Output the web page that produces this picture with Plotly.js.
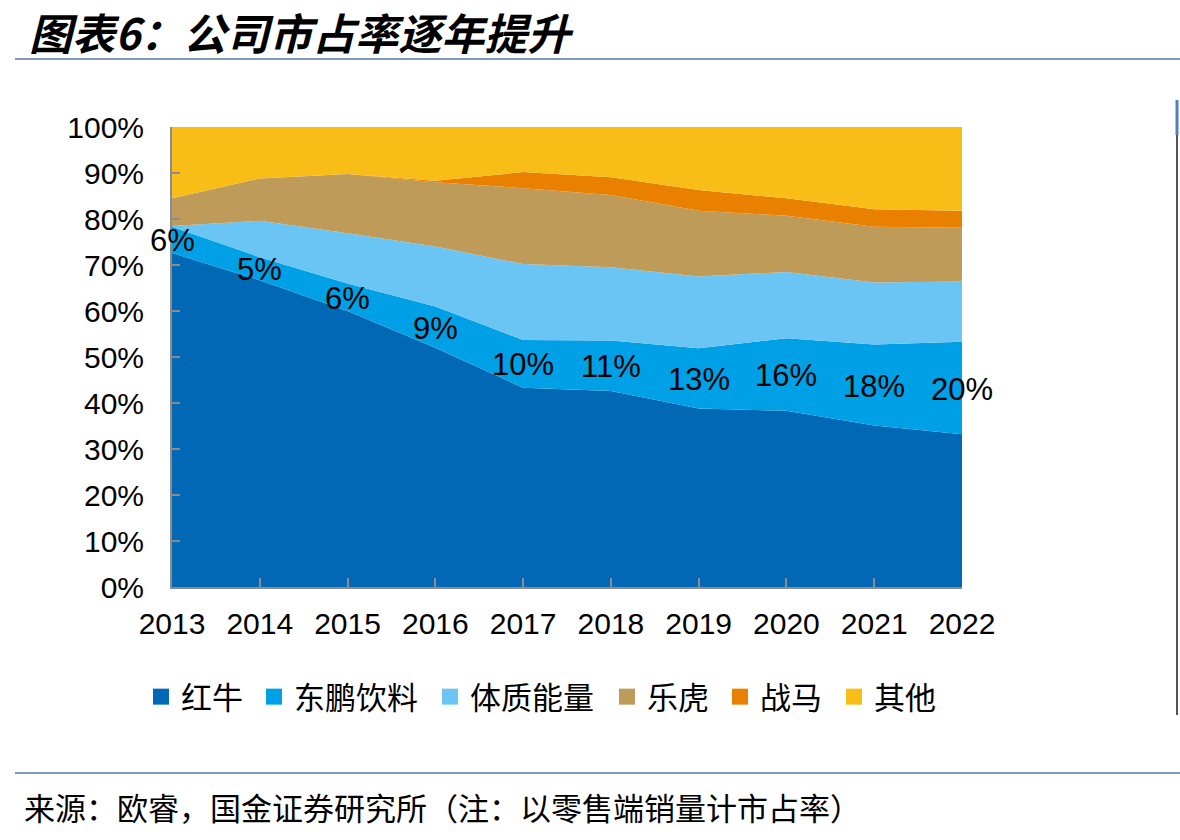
<!DOCTYPE html>
<html>
<head>
<meta charset="utf-8">
<script src="https://cdn.plot.ly/plotly-3.0.1.min.js"></script>
<style>
  html, body { margin: 0; padding: 0; background: #fff; }
  #chart { width: 1180px; height: 840px; }
</style>
</head>
<body>
<div id="chart"></div>
<script>
// ---- Data (market share, %) ----
const years = [2013, 2014, 2015, 2016, 2017, 2018, 2019, 2020, 2021, 2022];
const hongniu  = [72.6, 66.7, 60.0, 52.0, 43.3, 42.6, 38.8, 38.3, 35.1, 33.2]; // 红牛
const dongpeng = [5.7, 5.0, 6.0, 9.0, 10.4, 11.0, 13.1, 15.8, 17.6, 20.1];     // 东鹏饮料
const tizhi    = [0.2, 7.9, 10.9, 13.0, 16.5, 15.9, 15.6, 14.4, 13.5, 13.1];   // 体质能量
const lehu     = [6.0, 9.2, 12.9, 14.0, 16.5, 15.7, 14.3, 12.2, 12.1, 11.7];   // 乐虎
const zhanma   = [0, 0, 0, 0.3, 3.5, 3.9, 4.5, 3.8, 3.8, 3.7];                  // 战马
const qita     = [15.5, 11.2, 10.2, 11.7, 9.8, 10.9, 13.7, 15.5, 17.9, 18.2];  // 其他
const dongpengLabels = ['6%', '5%', '6%', '9%', '10%', '11%', '13%', '16%', '18%', '20%'];

const seriesNames = ['红牛', '东鹏饮料', '体质能量', '乐虎', '战马', '其他'];
const seriesData = [hongniu, dongpeng, tizhi, lehu, zhanma, qita];
const colors = ['#0068B5', '#00A0E6', '#6AC5F4', '#BF9B5A', '#E98000', '#F8BE17'];

// ---- Layout geometry helpers ----
const W = 1180, H = 840;
const L = 172, R = 962, T = 127, B = 587;
const px = x => (x - L) / (R - L);
const py = y => (B - y) / (B - T);

const latin = 'Liberation Sans, Arial, Noto Sans CJK SC, sans-serif';
const cjk = 'Noto Sans CJK SC, sans-serif';

// left edge (px) of each legend swatch in the reference layout
const legendSwatchLeft = [156, 269, 445, 622, 735, 849];

const traces = [];
seriesNames.forEach((name, i) => {
  traces.push({
    type: 'scatter', x: years, y: seriesData[i], name: name,
    stackgroup: 'one', mode: 'none',
    fillcolor: colors[i], line: {width: 0},
    showlegend: false, hoverinfo: 'x+y+name'
  });
});
// legend proxies (square swatches), one legend each
seriesNames.forEach((name, i) => {
  traces.push({
    type: 'scatter', x: [null], y: [null], name: name, mode: 'markers',
    marker: {symbol: 'square', size: 18, color: colors[i]},
    showlegend: true, hoverinfo: 'skip',
    legend: i === 0 ? 'legend' : 'legend' + (i + 1)
  });
});

const axisColor = '#8C8C8C';
const layout = {
  width: W, height: H,
  margin: {l: L, r: W - R, t: T, b: H - B, pad: 0},
  paper_bgcolor: '#fff', plot_bgcolor: '#fff',
  font: {family: latin, color: '#000'},
  xaxis: {
    range: [2013, 2022], tickvals: years, ticktext: years.map(String),
    showgrid: false, zeroline: false,
    showline: true, linecolor: axisColor, linewidth: 2,
    ticks: 'inside', ticklen: 9, tickwidth: 2, tickcolor: axisColor,
    tickfont: {family: latin, size: 30, color: '#000'},
    ticklabelstandoff: 9, fixedrange: true
  },
  yaxis: {
    range: [0, 100], dtick: 10, ticksuffix: '%',
    showgrid: false, zeroline: false,
    showline: true, linecolor: axisColor, linewidth: 2,
    ticks: 'inside', ticklen: 8, tickwidth: 2, tickcolor: axisColor,
    tickfont: {family: latin, size: 30, color: '#000'},
    ticklabelstandoff: 20, fixedrange: true
  },
  showlegend: true,
  annotations: [
    {
      text: '图表6：公司市占率逐年提升', xref: 'paper', yref: 'paper',
      x: px(27), y: py(31), xanchor: 'left', yanchor: 'middle', showarrow: false,
      font: {family: cjk, size: 43, weight: 'bold', style: 'italic', color: '#000'}
    },
    {
      text: '来源：欧睿，国金证券研究所（注：以零售端销量计市占率）', xref: 'paper', yref: 'paper',
      x: px(22), y: py(806), xanchor: 'left', yanchor: 'middle', showarrow: false,
      font: {family: cjk, size: 31, color: '#000'}
    }
  ],
  shapes: [
    {type: 'line', xref: 'paper', yref: 'paper', x0: px(15), x1: px(1180), y0: py(59), y1: py(59),
     line: {color: '#7F9AB5', width: 2}},
    {type: 'line', xref: 'paper', yref: 'paper', x0: px(15), x1: px(1180), y0: py(773), y1: py(773),
     line: {color: '#7F9AB5', width: 2}},
    {type: 'line', xref: 'paper', yref: 'paper', x0: px(1177), x1: px(1177), y0: py(100), y1: py(135),
     line: {color: '#4F81BD', width: 3}},
    {type: 'line', xref: 'paper', yref: 'paper', x0: px(1177), x1: px(1177), y0: py(135), y1: py(715),
     line: {color: '#555', width: 2}}
  ]
};

// one legend per series, placed at its reference position
seriesNames.forEach((name, i) => {
  const key = i === 0 ? 'legend' : 'legend' + (i + 1);
  layout[key] = {
    orientation: 'h', xref: 'container', yref: 'container',
    x: (legendSwatchLeft[i] - 15) / W, xanchor: 'left',
    y: 1 - 697 / H, yanchor: 'middle',
    font: {family: cjk, size: 31, color: '#000'},
    itemwidth: 30, bgcolor: 'rgba(0,0,0,0)', borderwidth: 0
  };
});

// 东鹏 labels centred in its band
dongpengLabels.forEach((lab, i) => {
  layout.annotations.push({
    text: lab, xref: 'x', yref: 'y',
    x: years[i], y: hongniu[i] + dongpeng[i] / 2,
    xanchor: 'center', yanchor: 'middle', yshift: -1, showarrow: false,
    font: {family: latin, size: 31, color: '#000'}
  });
});

Plotly.newPlot('chart', traces, layout, {displayModeBar: false, staticPlot: true});
</script>
</body>
</html>
